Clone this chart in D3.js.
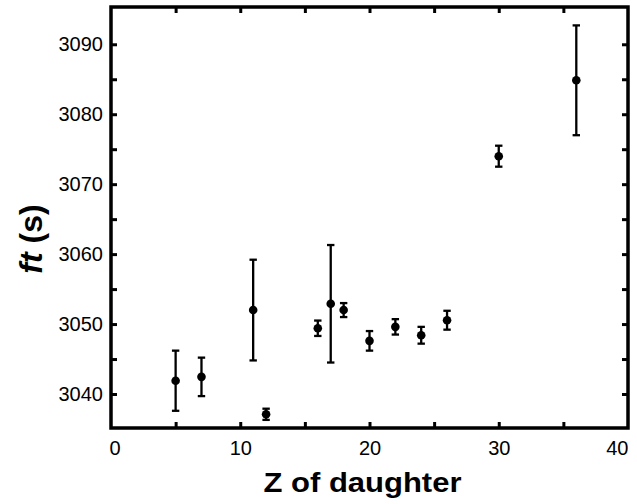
<!DOCTYPE html>
<html>
<head>
<meta charset="utf-8">
<script src="https://cdn.jsdelivr.net/npm/d3@7/dist/d3.min.js"></script>
<style>
  html, body { margin: 0; padding: 0; background: #fff; }
  svg { display: block; font-family: "Liberation Sans", Arial, Helvetica, sans-serif; }
</style>
</head>
<body>
<svg id="chart" width="637" height="504"></svg>
<script>
// ---- data ----
const zDaughter = [5, 7, 11, 12, 16, 17, 18, 20, 22, 24, 26, 30, 36];
const ftValues  = [3041.9, 3042.45, 3052.0, 3037.1, 3049.4, 3052.9, 3052.0, 3047.6, 3049.6, 3048.4, 3050.55, 3074.0, 3084.85];
const ftErrors  = [4.3, 2.75, 7.2, 0.8, 1.1, 8.4, 1.0, 1.4, 1.1, 1.2, 1.35, 1.5, 7.85];
const xTicks = [0, 5, 10, 15, 20, 25, 30, 35, 40];
const xTickLabels = [0, 10, 20, 30, 40];
const yTicks = [3040, 3045, 3050, 3055, 3060, 3065, 3070, 3075, 3080, 3085, 3090];
const yTickLabels = [3040, 3050, 3060, 3070, 3080, 3090];
const xTitle = "Z of daughter";

// ---- layout ----
const pLeft = 111, pRight = 628, pTop = 7, pBottom = 428;
const svg = d3.select("#chart");

const x = d3.scaleLinear().domain([0, 40]).range([pLeft, pRight]);
const y = d3.scaleLinear().domain([3035.14, 3095.33]).range([pBottom, pTop]);

const fmtX = d => xTickLabels.includes(d) ? String(d) : "";
const fmtY = d => yTickLabels.includes(d) ? String(d) : "";

// bottom axis
const gx = svg.append("g").attr("transform", `translate(0,${pBottom})`)
  .call(d3.axisBottom(x).tickValues(xTicks).tickSize(-6).tickSizeOuter(0).tickPadding(13).tickFormat(fmtX));
// top axis (ticks only)
const gxt = svg.append("g").attr("transform", `translate(0,${pTop})`)
  .call(d3.axisTop(x).tickValues(xTicks).tickSize(-6).tickSizeOuter(0).tickFormat(""));
// left axis
const gy = svg.append("g").attr("transform", `translate(${pLeft},0)`)
  .call(d3.axisLeft(y).tickValues(yTicks).tickSize(-6).tickSizeOuter(0).tickPadding(8).tickFormat(fmtY));
// right axis (ticks only)
const gyr = svg.append("g").attr("transform", `translate(${pRight},0)`)
  .call(d3.axisRight(y).tickValues(yTicks).tickSize(-6).tickSizeOuter(0).tickFormat(""));

[gx, gxt, gy, gyr].forEach(g => {
  g.select(".domain").remove();
  g.selectAll(".tick line").attr("stroke", "#000").attr("stroke-width", 3);
  g.selectAll(".tick text").attr("fill", "#000").attr("font-size", 20)
    .attr("font-family", "'Liberation Sans', Arial, sans-serif");
});
// hide corner ticks on horizontal axes
[gx, gxt].forEach(g => g.selectAll(".tick").filter(d => d === 0 || d === 40).select("line").remove());

// keep extreme x labels inside the picture
gx.selectAll(".tick").filter(d => d === 0).select("text").attr("text-anchor", "start").attr("x", -2);
gx.selectAll(".tick").filter(d => d === 40).select("text").attr("text-anchor", "end").attr("x", 0);

// frame
svg.append("rect")
  .attr("x", pLeft).attr("y", pTop)
  .attr("width", pRight - pLeft).attr("height", pBottom - pTop)
  .attr("fill", "none").attr("stroke", "#000").attr("stroke-width", 3.5);

// data
const data = zDaughter.map((z, i) => ({ z, v: ftValues[i], e: ftErrors[i] }));
const capW = 3.7;
const pts = svg.append("g");
const eb = pts.selectAll("g.eb").data(data).join("g").attr("class", "eb")
  .attr("stroke", "#000").attr("stroke-width", 2.3);
eb.append("line")
  .attr("x1", d => x(d.z)).attr("x2", d => x(d.z))
  .attr("y1", d => y(d.v + d.e)).attr("y2", d => y(d.v - d.e));
eb.append("line")
  .attr("x1", d => x(d.z) - capW).attr("x2", d => x(d.z) + capW)
  .attr("y1", d => y(d.v + d.e)).attr("y2", d => y(d.v + d.e));
eb.append("line")
  .attr("x1", d => x(d.z) - capW).attr("x2", d => x(d.z) + capW)
  .attr("y1", d => y(d.v - d.e)).attr("y2", d => y(d.v - d.e));
pts.selectAll("circle").data(data).join("circle")
  .attr("cx", d => x(d.z)).attr("cy", d => y(d.v)).attr("r", 4.3).attr("fill", "#000");

// axis titles
svg.append("text")
  .attr("x", 362.5).attr("y", 492)
  .attr("text-anchor", "middle")
  .attr("font-size", 28).attr("font-weight", "bold")
  .attr("textLength", 198).attr("lengthAdjust", "spacingAndGlyphs")
  .text(xTitle);

const yt = svg.append("text")
  .attr("transform", "translate(42,239) rotate(-90)")
  .attr("text-anchor", "middle")
  .attr("font-size", 32).attr("font-weight", "bold");
yt.append("tspan").attr("font-style", "italic").text("ft");
yt.append("tspan").text(" (s)");
</script>
</body>
</html>
